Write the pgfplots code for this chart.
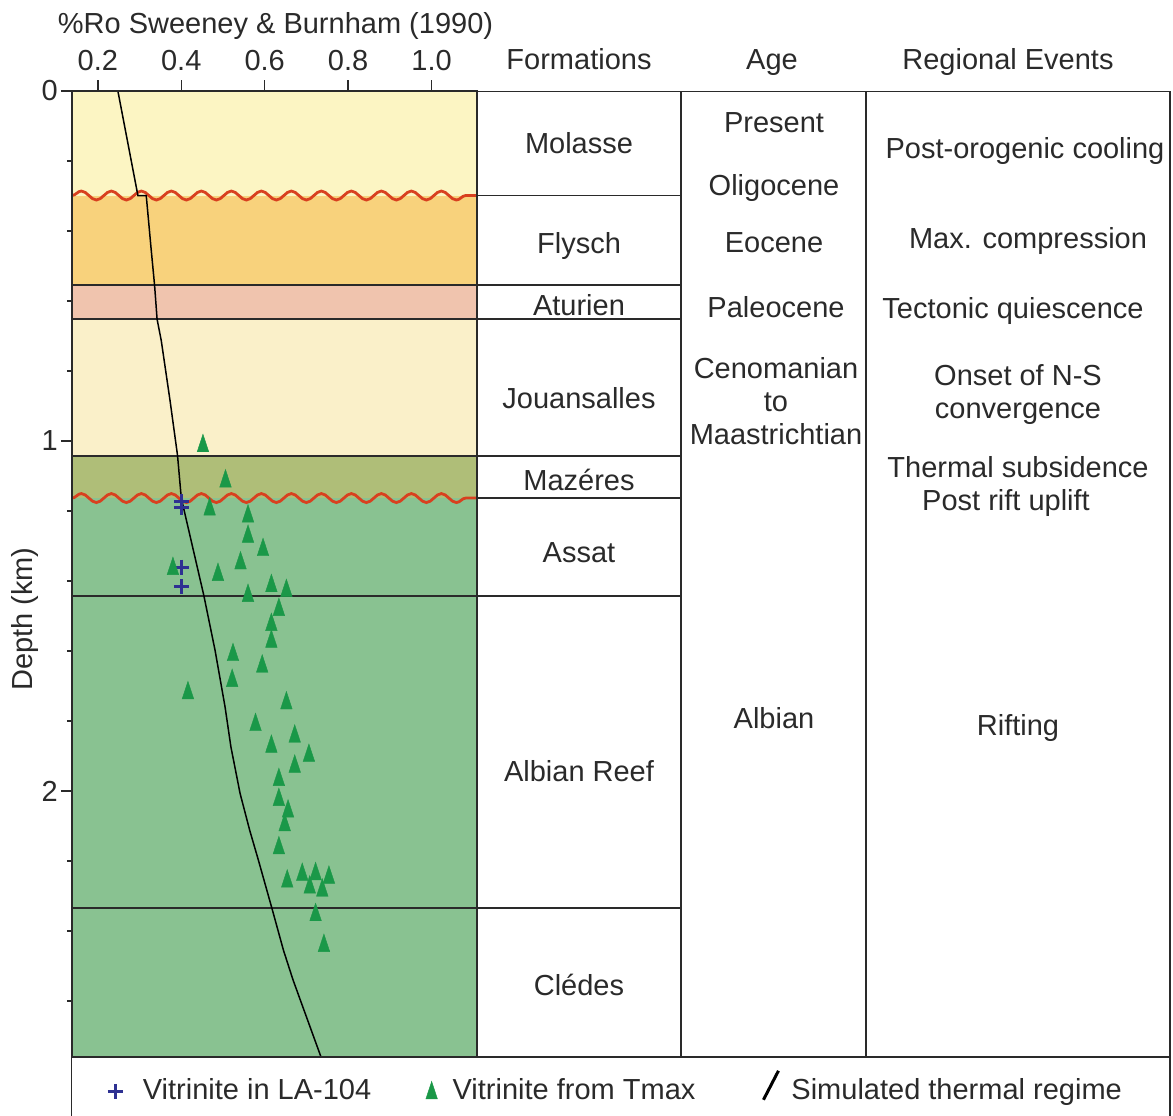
\documentclass[border=0pt]{standalone}
\usepackage{fontspec}
\setmainfont{Liberation Sans}
\usepackage{pgfplots}
\pgfplotsset{compat=1.18}
\usetikzlibrary{decorations.pathmorphing}

\definecolor{molasse}{HTML}{FCF5C3}
\definecolor{flysch}{HTML}{F8D27C}
\definecolor{aturien}{HTML}{F0C4AE}
\definecolor{jouans}{HTML}{FAF0C9}
\definecolor{mazeres}{HTML}{AFBE78}
\definecolor{albian}{HTML}{89C291}
\definecolor{tri}{HTML}{1A9848}
\definecolor{crossc}{HTML}{2E3192}
\definecolor{wave}{HTML}{D8401F}
\definecolor{ink}{HTML}{2A2A2A}

\newcommand{\figfont}{\fontsize{29}{33}\selectfont}

\begin{document}
\begin{tikzpicture}[font=\figfont]
\useasboundingbox (0pt,0pt) rectangle (1173pt,-1116pt);
\begin{axis}[
    at={(72pt,-1057pt)}, anchor=south west,
    scale only axis, width=405pt, height=966pt,
    xmin=0.138, xmax=1.109, ymin=0, ymax=2.76,
    y dir=reverse,
    axis on top,
    xtick={0.2,0.4,0.6,0.8,1.0},
    ytick={0,1,2},
    minor ytick={0.2,0.4,0.6,0.8,1.2,1.4,1.6,1.8,2.2,2.4,2.6},
    xtick pos=right, xticklabel pos=right, ytick pos=left,
    tick align=outside, major tick length=11pt, minor tick length=5pt,
    tick style={ink, line width=1.3pt},
    axis line style={ink, line width=1.5pt},
    /pgf/number format/assume math mode=true,
    ticklabel style={font=\figfont, text=ink, inner sep=0pt},
    xticklabel style={yshift=9pt, /pgf/number format/.cd, fixed, fixed zerofill, precision=1},
    yticklabel style={xshift=-3pt},
    xlabel={\%Ro Sweeney \& Burnham (1990)},
    xlabel style={at={(axis description cs:0.5,1)}, anchor=base, yshift=58pt, xshift=1pt, inner sep=0pt, text=ink},
    ylabel={Depth (km)},
    ylabel style={at={(axis description cs:-0.116,0.4534)}, anchor=center, inner sep=0pt, text=ink},
    legend columns=3,
    legend style={at={(axis description cs:0.0691,-0.0316)}, anchor=west,
        draw=none, fill=none, inner sep=0pt, column sep=0pt, font=\figfont, text=ink,
        cells={anchor=base west, inner sep=0pt}},
]
% formation bands, deepest first, each closed up to depth 0
\addplot[forget plot, draw=none, fill=albian] coordinates {(0.138,2.76) (1.109,2.76)} \closedcycle;
\addplot[forget plot, draw=none, fill=mazeres] coordinates {(0.138,1.163) (1.109,1.163)} \closedcycle;
\addplot[forget plot, draw=none, fill=jouans] coordinates {(0.138,1.043) (1.109,1.043)} \closedcycle;
\addplot[forget plot, draw=none, fill=aturien] coordinates {(0.138,0.651) (1.109,0.651)} \closedcycle;
\addplot[forget plot, draw=none, fill=flysch] coordinates {(0.138,0.554) (1.109,0.554)} \closedcycle;
\addplot[forget plot, draw=none, fill=molasse] coordinates {(0.138,0.2986) (1.109,0.2986)} \closedcycle;

% formation boundaries
\addplot[forget plot, ink, line width=1.3pt] coordinates {(0.138,0.554) (1.109,0.554)};
\addplot[forget plot, ink, line width=1.3pt] coordinates {(0.138,0.651) (1.109,0.651)};
\addplot[forget plot, ink, line width=1.3pt] coordinates {(0.138,1.043) (1.109,1.043)};
\addplot[forget plot, ink, line width=1.3pt] coordinates {(0.138,1.443) (1.109,1.443)};
\addplot[forget plot, ink, line width=1.3pt] coordinates {(0.138,2.334) (1.109,2.334)};

% unconformities
\addplot[forget plot, wave, line width=2.8pt, decorate, decoration={snake, amplitude=4.5pt, segment length=30pt}]
    coordinates {(0.138,0.2986) (1.109,0.2986)};
\addplot[forget plot, wave, line width=2.8pt, decorate, decoration={snake, amplitude=4.5pt, segment length=30pt}]
    coordinates {(0.138,1.163) (1.109,1.163)};

% vitrinite LA-104
\addplot[only marks, mark=+, mark size=7.5pt, color=crossc, mark options={solid, line width=3pt},
    legend image code/.code={\path[draw=none, fill=none] (0pt,-6pt) rectangle (40.7pt,22pt);
      \draw[crossc, mark=+, mark size=7.5pt, mark options={solid, line width=3pt}] plot coordinates {(15pt,8.5pt)};}]
    coordinates {(0.40,1.174) (0.40,1.190) (0.40,1.360) (0.40,1.417)};
\addlegendentry{Vitrinite in LA-104}

% vitrinite from Tmax
\addplot[only marks, mark=triangle*, mark size=6.7pt, color=tri, mark options={yscale=1.75},
    legend image code/.code={\path[draw=none, fill=none] (0pt,-6pt) rectangle (77.4pt,22pt);
      \draw[tri, mark=triangle*, mark size=6.7pt, mark options={yscale=1.75}] plot coordinates {(58.4pt,6.7pt)};}]
    coordinates {
    (0.452,1.014) (0.506,1.115) (0.468,1.195) (0.560,1.215) (0.560,1.273)
    (0.596,1.311) (0.542,1.349) (0.380,1.365) (0.488,1.382) (0.616,1.414)
    (0.652,1.428) (0.560,1.442) (0.634,1.482) (0.616,1.525) (0.616,1.573)
    (0.524,1.611) (0.594,1.644) (0.522,1.685) (0.416,1.720) (0.652,1.749)
    (0.578,1.811) (0.672,1.844) (0.616,1.873) (0.706,1.899) (0.672,1.930)
    (0.634,1.968) (0.634,2.025) (0.656,2.058) (0.648,2.097) (0.634,2.163)
    (0.654,2.258) (0.690,2.239) (0.722,2.237) (0.754,2.247) (0.708,2.275)
    (0.738,2.284) (0.722,2.354) (0.742,2.442)};
\addlegendentry{Vitrinite from Tmax}

% simulated thermal regime
\addplot[black, line width=1.5pt, no marks,
    legend image code/.code={\path[draw=none, fill=none] (0pt,-6pt) rectangle (92pt,29pt);
      \draw[line width=3pt, black] (66pt,0pt) -- (81pt,29pt);}]
    coordinates {
    (0.248,0) (0.296,0.2986) (0.316,0.2986) (0.328,0.455) (0.336,0.555)
    (0.342,0.652) (0.352,0.713) (0.373,0.884) (0.391,1.041) (0.400,1.163)
    (0.454,1.441) (0.481,1.598) (0.505,1.760) (0.519,1.874) (0.541,2.007)
    (0.564,2.112) (0.585,2.198) (0.618,2.338) (0.645,2.455) (0.668,2.540)
    (0.735,2.760)};
\addlegendentry{Simulated thermal regime}
\end{axis}

\begin{scope}[x=1pt, y=-1pt, line width=1.3pt, draw=ink, text=ink]
  % table frame
  \draw (477,91.5) -- (1170,91.5);
  \draw (681,91.5) -- (681,1057);
  \draw (866,91.5) -- (866,1057);
  \draw (1170,91.5) -- (1170,1116);
  \draw[line width=2.2pt] (477,91) -- (477,1057);
  \foreach \yy in {195.5,285,319,456,498,596,908} \draw (477,\yy) -- (681,\yy);
  \draw (71,1057) -- (1170,1057);
  \draw (71.6,1057) -- (71.6,1116);
  % headers
  \node[anchor=base, inner sep=0pt] at (579,70) {Formations};
  \node[anchor=base, inner sep=0pt] at (772,70) {Age};
  \node[anchor=base, inner sep=0pt] at (1008,70) {Regional Events};
  % formations
  \node[anchor=base, inner sep=0pt] at (579,153) {Molasse};
  \node[anchor=base, inner sep=0pt] at (579,253) {Flysch};
  \node[anchor=base, inner sep=0pt] at (579,315) {Aturien};
  \node[anchor=base, inner sep=0pt] at (579,408) {Jouansalles};
  \node[anchor=base, inner sep=0pt] at (579,490) {Mazéres};
  \node[anchor=base, inner sep=0pt] at (579,562) {Assat};
  \node[anchor=base, inner sep=0pt] at (579,781) {Albian Reef};
  \node[anchor=base, inner sep=0pt] at (579,995) {Clédes};
  % ages
  \node[anchor=base, inner sep=0pt] at (774,132) {Present};
  \node[anchor=base, inner sep=0pt] at (774,195) {Oligocene};
  \node[anchor=base, inner sep=0pt] at (774,252) {Eocene};
  \node[anchor=base, inner sep=0pt] at (776,317) {Paleocene};
  \node[anchor=base, inner sep=0pt] at (776,378) {Cenomanian};
  \node[anchor=base, inner sep=0pt] at (776,411) {to};
  \node[anchor=base, inner sep=0pt] at (776,444) {Maastrichtian};
  \node[anchor=base, inner sep=0pt] at (774,728) {Albian};
  % regional events
  \node[anchor=base, inner sep=0pt] at (1025,158) {Post-orogenic cooling};
  \node[anchor=base, inner sep=0pt] at (1028,248) {Max. compression};
  \node[anchor=base, inner sep=0pt] at (1013,318) {Tectonic quiescence};
  \node[anchor=base, inner sep=0pt] at (1018,385) {Onset of N-S};
  \node[anchor=base, inner sep=0pt] at (1018,418) {convergence};
  \node[anchor=base, inner sep=0pt] at (1018,477) {Thermal subsidence};
  \node[anchor=base, inner sep=0pt] at (1006,510) {Post rift uplift};
  \node[anchor=base, inner sep=0pt] at (1018,735) {Rifting};
\end{scope}
\end{tikzpicture}
\end{document}
